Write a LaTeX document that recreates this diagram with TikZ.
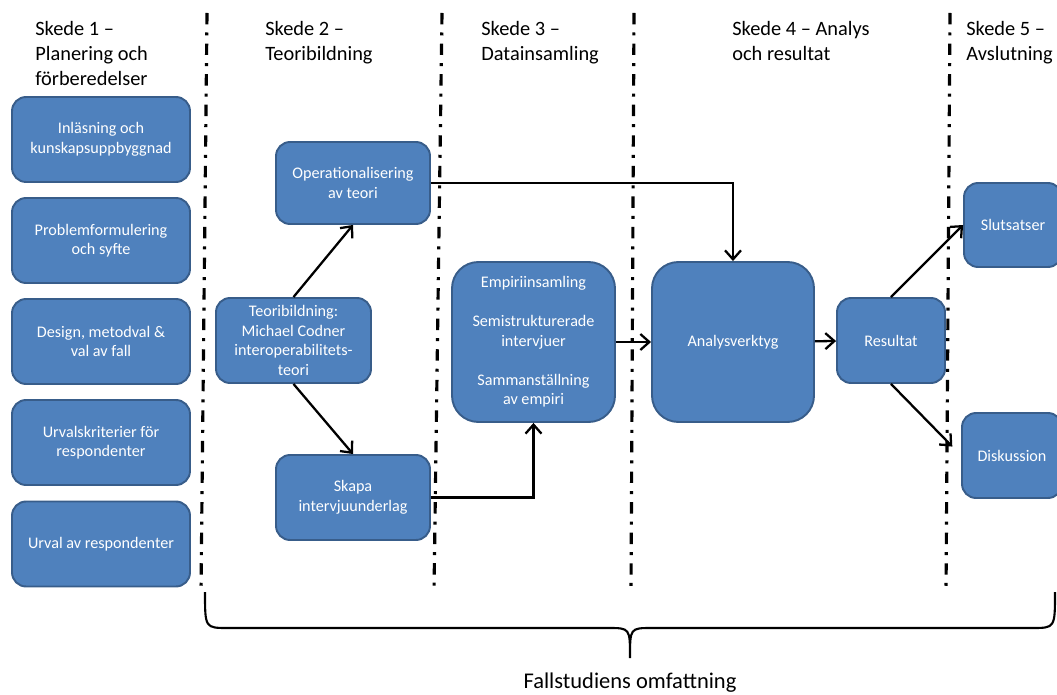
\documentclass[tikz,border=0pt]{standalone}
\usepackage{fontspec}
\setmainfont{Carlito}
\definecolor{boxblue}{RGB}{79,129,189}
\definecolor{boxline}{RGB}{56,93,138}
\usetikzlibrary{arrows.meta}
\tikzset{
    box/.style={draw=boxline, fill=boxblue, line width=1.1pt, rounded corners=8pt,
        text=white, align=center, inner sep=2pt,
        font=\fontsize{9.2}{11.1}\selectfont},
    bigbox/.style={box, rounded corners=15pt},
    skede/.style={anchor=north west, align=left, inner sep=0pt,
        font=\fontsize{11.6}{14.2}\selectfont},
    arr/.style={-{Straight Barb[length=1.8mm,width=3.2mm]}, line width=1.3pt},
    sepline/.style={line width=1.8pt,
        dash pattern=on 6.5pt off 4.6pt on 1.7pt off 4.6pt}
}

\begin{document}
\begin{tikzpicture}[x=0.02cm, y=-0.02cm]
            \useasboundingbox (0,0) rectangle (1057,695);
            % skeden
            \node[skede] (S1) at (35,21.5) {Skede 1 --\\Planering och\\förberedelser};
            \node[skede] (S2) at (265,21.5) {Skede 2 --\\Teoribildning};
            \node[skede] (S3) at (481,21.5) {Skede 3 --\\Datainsamling};
            \node[skede] (S4) at (732,21.5) {Skede 4 -- Analys\\och resultat};
            \node[skede] (S5) at (966,21.5) {Skede 5 --\\Avslutning};
            \foreach \t/\b in {207/201, 442/434, 634/631, 950/946}
                \draw[sepline] (\t,13) -- (\b,592);

            % skede 1
            \node[box, minimum width=3.56cm, minimum height=1.7cm] (Inl) at (101,139.5) {Inläsning och\\kunskapsuppbyggnad};
            \node[box, minimum width=3.56cm, minimum height=1.7cm] (Prob) at (101,240.5) {Problemformulering\\och syfte};
            \node[box, minimum width=3.56cm, minimum height=1.7cm] (Des) at (101,341.5) {Design, metodval \&\\val av fall};
            \node[box, minimum width=3.56cm, minimum height=1.7cm] (Krit) at (101,442.5) {Urvalskriterier för\\respondenter};
            \node[box, minimum width=3.56cm, minimum height=1.7cm] (Urv) at (101,544) {Urval av respondenter};

            % skede 2-5
            \node[box, minimum width=3.08cm, minimum height=1.64cm] (Oper) at (353,183) {Operationalisering\\av teori};
            \node[box, minimum width=3.1cm, minimum height=1.7cm] (Teori) at (293.5,340.5) {Teoribildning:\\Michael Codner\\interoperabilitets-\\teori};
            \node[box, minimum width=3.08cm, minimum height=1.7cm] (Skapa) at (353,497.5) {Skapa\\intervjuunderlag};
            \node[bigbox, minimum width=3.26cm, minimum height=3.2cm] (Empiri) at (533.5,342) {Empiriinsamling\\[11.1pt]Semistrukturerade\\intervjuer\\[11.1pt]Sammanställning\\av empiri};
            \node[bigbox, minimum width=3.24cm, minimum height=3.2cm] (Analys) at (733,342) {Analysverktyg};
            \node[box, minimum width=2.16cm, minimum height=1.7cm] (Res) at (891,340.5) {Resultat};
            \node[box, minimum width=1.96cm, minimum height=1.68cm] (Slut) at (1013,225) {Slutsatser};
            \node[box, minimum width=2cm, minimum height=1.7cm] (Disk) at (1012,455.5) {Diskussion};

            \draw[arr] (Teori.north)--(Oper.south);
            \draw[arr] (Teori.south)--(Skapa.north);
            \draw[arr] (Oper.east)-|(Analys.north);
            \draw[arr] (Skapa.east)-|(Empiri.south);
            \draw[arr] (Empiri)--(Analys);
            \draw[arr] (Analys)--(Res);
            \draw[arr] (Res.north)--(Slut.west);
            \draw[arr, shorten >=0.25cm] (Res.south)--(Disk.west);

            % klammer
            \draw[line width=1.2pt] (205,592) .. controls (205,628) .. (228,628) -- (608,628)
                .. controls (630,628) .. (630,658) .. controls (630,628) .. (652,628)
                -- (1032,628) .. controls (1055,628) .. (1055,592);
            \node[font=\fontsize{12.8}{15}\selectfont] (Omf) at (630,683) {Fallstudiens omfattning};
        \end{tikzpicture}
\end{document}
